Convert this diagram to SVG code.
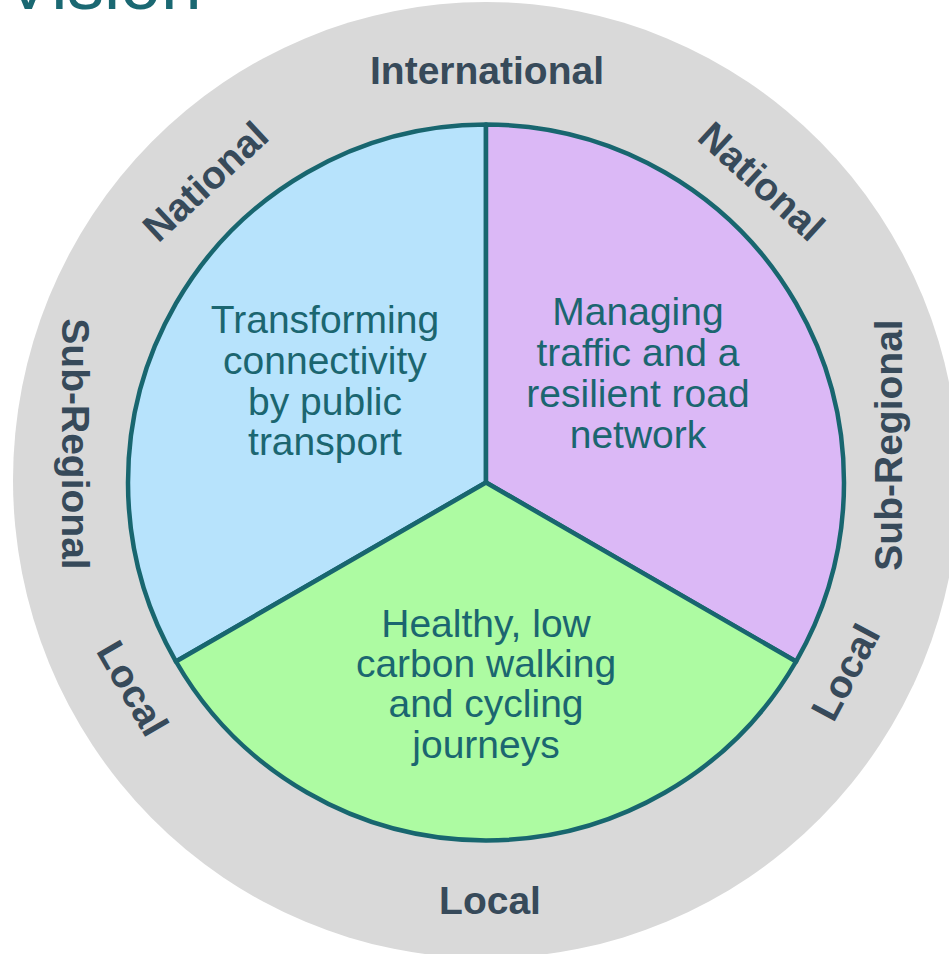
<svg xmlns="http://www.w3.org/2000/svg" width="949" height="954" viewBox="0 0 949 954">
<style>
.lvl{font-family:"Liberation Sans",Arial,sans-serif;font-weight:bold;font-size:39px;fill:#374a5a;text-anchor:middle}
.sec{stroke:#18666f;stroke-width:4.5;stroke-linejoin:round}
.st{font-family:"Liberation Sans",Arial,sans-serif;font-size:39px;fill:#1b6670;text-anchor:middle}
</style>
<rect width="949" height="954" fill="#ffffff"/>
<text x="4" y="9" font-family="'Liberation Sans',Arial,sans-serif" font-size="73" fill="#1a6872">Vision</text>
<g id="outer-ring">
<ellipse cx="486" cy="480" rx="473" ry="478" fill="#d9d9d9"/>
</g>
<g id="levels">
<text class="lvl" x="487" y="84">International</text>
<text class="lvl" transform="translate(762,181) rotate(42.5)" y="14">National</text>
<text class="lvl" transform="translate(205,181) rotate(-43)" y="14">National</text>
<text class="lvl" transform="translate(887.5,445) rotate(-90)" y="14">Sub-Regional</text>
<text class="lvl" transform="translate(76,444) rotate(90)" y="14">Sub-Regional</text>
<text class="lvl" transform="translate(845,672) rotate(-62)" y="14">Local</text>
<text class="lvl" transform="translate(133,688) rotate(60)" y="14">Local</text>
<text class="lvl" x="490" y="914">Local</text>
</g>
<g id="public-transport">
<path class="sec" fill="#b7e3fc" d="M486,482.5 L175.96,661.5 A358,358 0 0 1 486,124.5 Z"/>
<text class="st"><tspan x="325" y="333">Transforming</tspan><tspan x="325" y="374">connectivity</tspan><tspan x="325" y="414.5">by public</tspan><tspan x="325" y="455">transport</tspan></text>
</g>
<g id="road-network">
<path class="sec" fill="#dbb8f6" d="M486,482.5 L486,124.5 A358,358 0 0 1 796.04,661.5 Z"/>
<text class="st"><tspan x="638" y="325">Managing</tspan><tspan x="638" y="366">traffic and a</tspan><tspan x="638" y="407">resilient road</tspan><tspan x="638" y="448">network</tspan></text>
</g>
<g id="walking-cycling">
<path class="sec" fill="#adfba2" d="M486,482.5 L796.04,661.5 A358,358 0 0 1 175.96,661.5 Z"/>
<text class="st"><tspan x="486" y="637">Healthy, low</tspan><tspan x="486" y="677">carbon walking</tspan><tspan x="486" y="717">and cycling</tspan><tspan x="486" y="758">journeys</tspan></text>
</g>
<g id="connectors"></g>
</svg>
